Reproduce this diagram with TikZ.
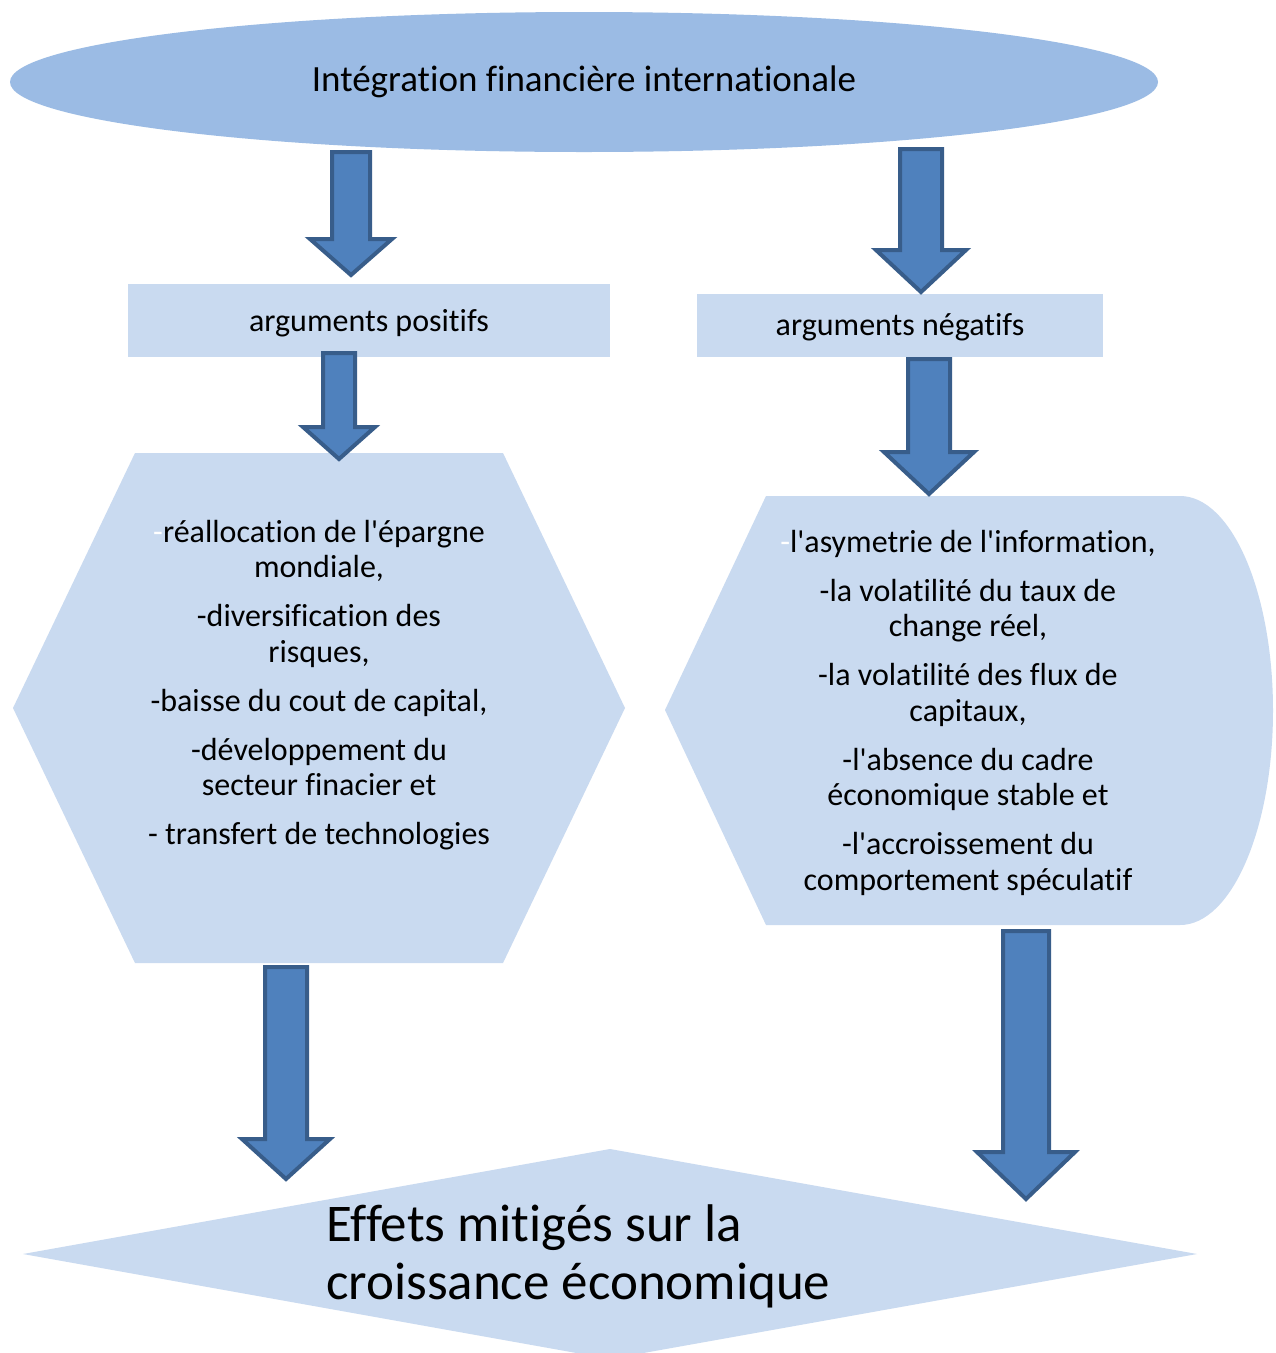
\documentclass[tikz,border=0pt]{standalone}
\usepackage{fontspec}
\setmainfont{Carlito}[Ligatures={NoCommon}]
\usetikzlibrary{shapes.geometric}
\definecolor{topfill}{HTML}{9BBBE4}
\definecolor{lightfill}{HTML}{C9DAF0}
\definecolor{arrowfill}{HTML}{4F81BD}
\definecolor{arrowline}{HTML}{385D8A}
\newcommand\q{\textquotesingle}
\newcommand\blockarrow[6]{%
  \draw[blockarr] (#1-#5,#2) -- (#1+#5,#2) -- (#1+#5,#3) -- (#1+#6,#3) -- (#1,#4) -- (#1-#6,#3) -- (#1-#5,#3) -- cycle;}
\begin{document}
\begin{tikzpicture}[x=1pt,y=-1pt,
  blockarr/.style={fill=arrowfill,draw=arrowline,line width=4pt,line join=miter},
  lightshape/.style={fill=lightfill,draw=none},
  labeltext/.style={font=\fontsize{32}{38}\selectfont,text=black,inner sep=0pt},
  bodytext/.style={font=\fontsize{32}{35.5}\selectfont,align=center,inner sep=0pt,text=black}]
\clip (0,0) rectangle (1276,1353);
\fill[white] (0,0) rectangle (1276,1353);
% top ellipse
\node[ellipse,fill=topfill,draw=none,minimum width=1148pt,minimum height=140pt,inner sep=0pt,
  font=\fontsize{37}{44}\selectfont] (top) at (584,82) {Intégration financière internationale};
% argument boxes
\node[lightshape,minimum width=482pt,minimum height=73pt,inner sep=0pt,labeltext] (pos) at (369,320.5) {};
\node[labeltext] (postitle) at (369,323.5) {arguments positifs};
\node[lightshape,minimum width=406pt,minimum height=63pt,inner sep=0pt,labeltext] (neg) at (900,325.5) {};
\node[labeltext] (negtitle) at (900,327.5) {arguments négatifs};
% left hexagon
\fill[lightfill] (135,453) -- (503,453) -- (625,708) -- (503,963) -- (135,963) -- (13,708) -- cycle;
\node[bodytext,anchor=north] (postext) at (319,520) {%
  \textcolor{white}{-}réallocation de l\q épargne\\ mondiale,\\[13.5pt]
  -diversification des\\ risques,\\[13.5pt]
  -baisse du cout de capital,\\[13.5pt]
  -développement du\\ secteur finacier et\\[13.5pt]
  - transfert de technologies};
% right display shape
\fill[lightfill] (766,496) -- (1180,496) arc[start angle=-90,end angle=90,x radius=93,y radius=214.5] -- (766,925) -- (665,710) -- cycle;
\node[bodytext,anchor=north] (negtext) at (968,530) {%
  \textcolor{white}{-}l\q asymetrie de l\q information,\\[13.5pt]
  -la volatilité du taux de\\ change réel,\\[13.5pt]
  -la volatilité des flux de\\ capitaux,\\[13.5pt]
  -l\q absence du cadre\\ économique stable et\\[13.5pt]
  -l\q accroissement du\\ comportement spéculatif};
% bottom diamond
\fill[lightfill] (23,1254) -- (610,1149) -- (1197,1254) -- (610,1359) -- cycle;
\node[font=\fontsize{53}{58}\selectfont,align=left,inner sep=0pt,anchor=north west] (result) at (326,1204)
  {Effets mitigés sur la\\croissance économique};
% block arrows
\blockarrow{351}{152}{239}{275}{19}{41}
\blockarrow{921}{149}{250}{292}{21}{45}
\blockarrow{339}{353}{427}{459}{16}{36}
\blockarrow{929}{359}{452}{494}{21}{45}
\blockarrow{286}{967}{1139}{1179}{21}{44}
\blockarrow{1026}{931}{1152}{1199}{23}{49}
\end{tikzpicture}
\end{document}
